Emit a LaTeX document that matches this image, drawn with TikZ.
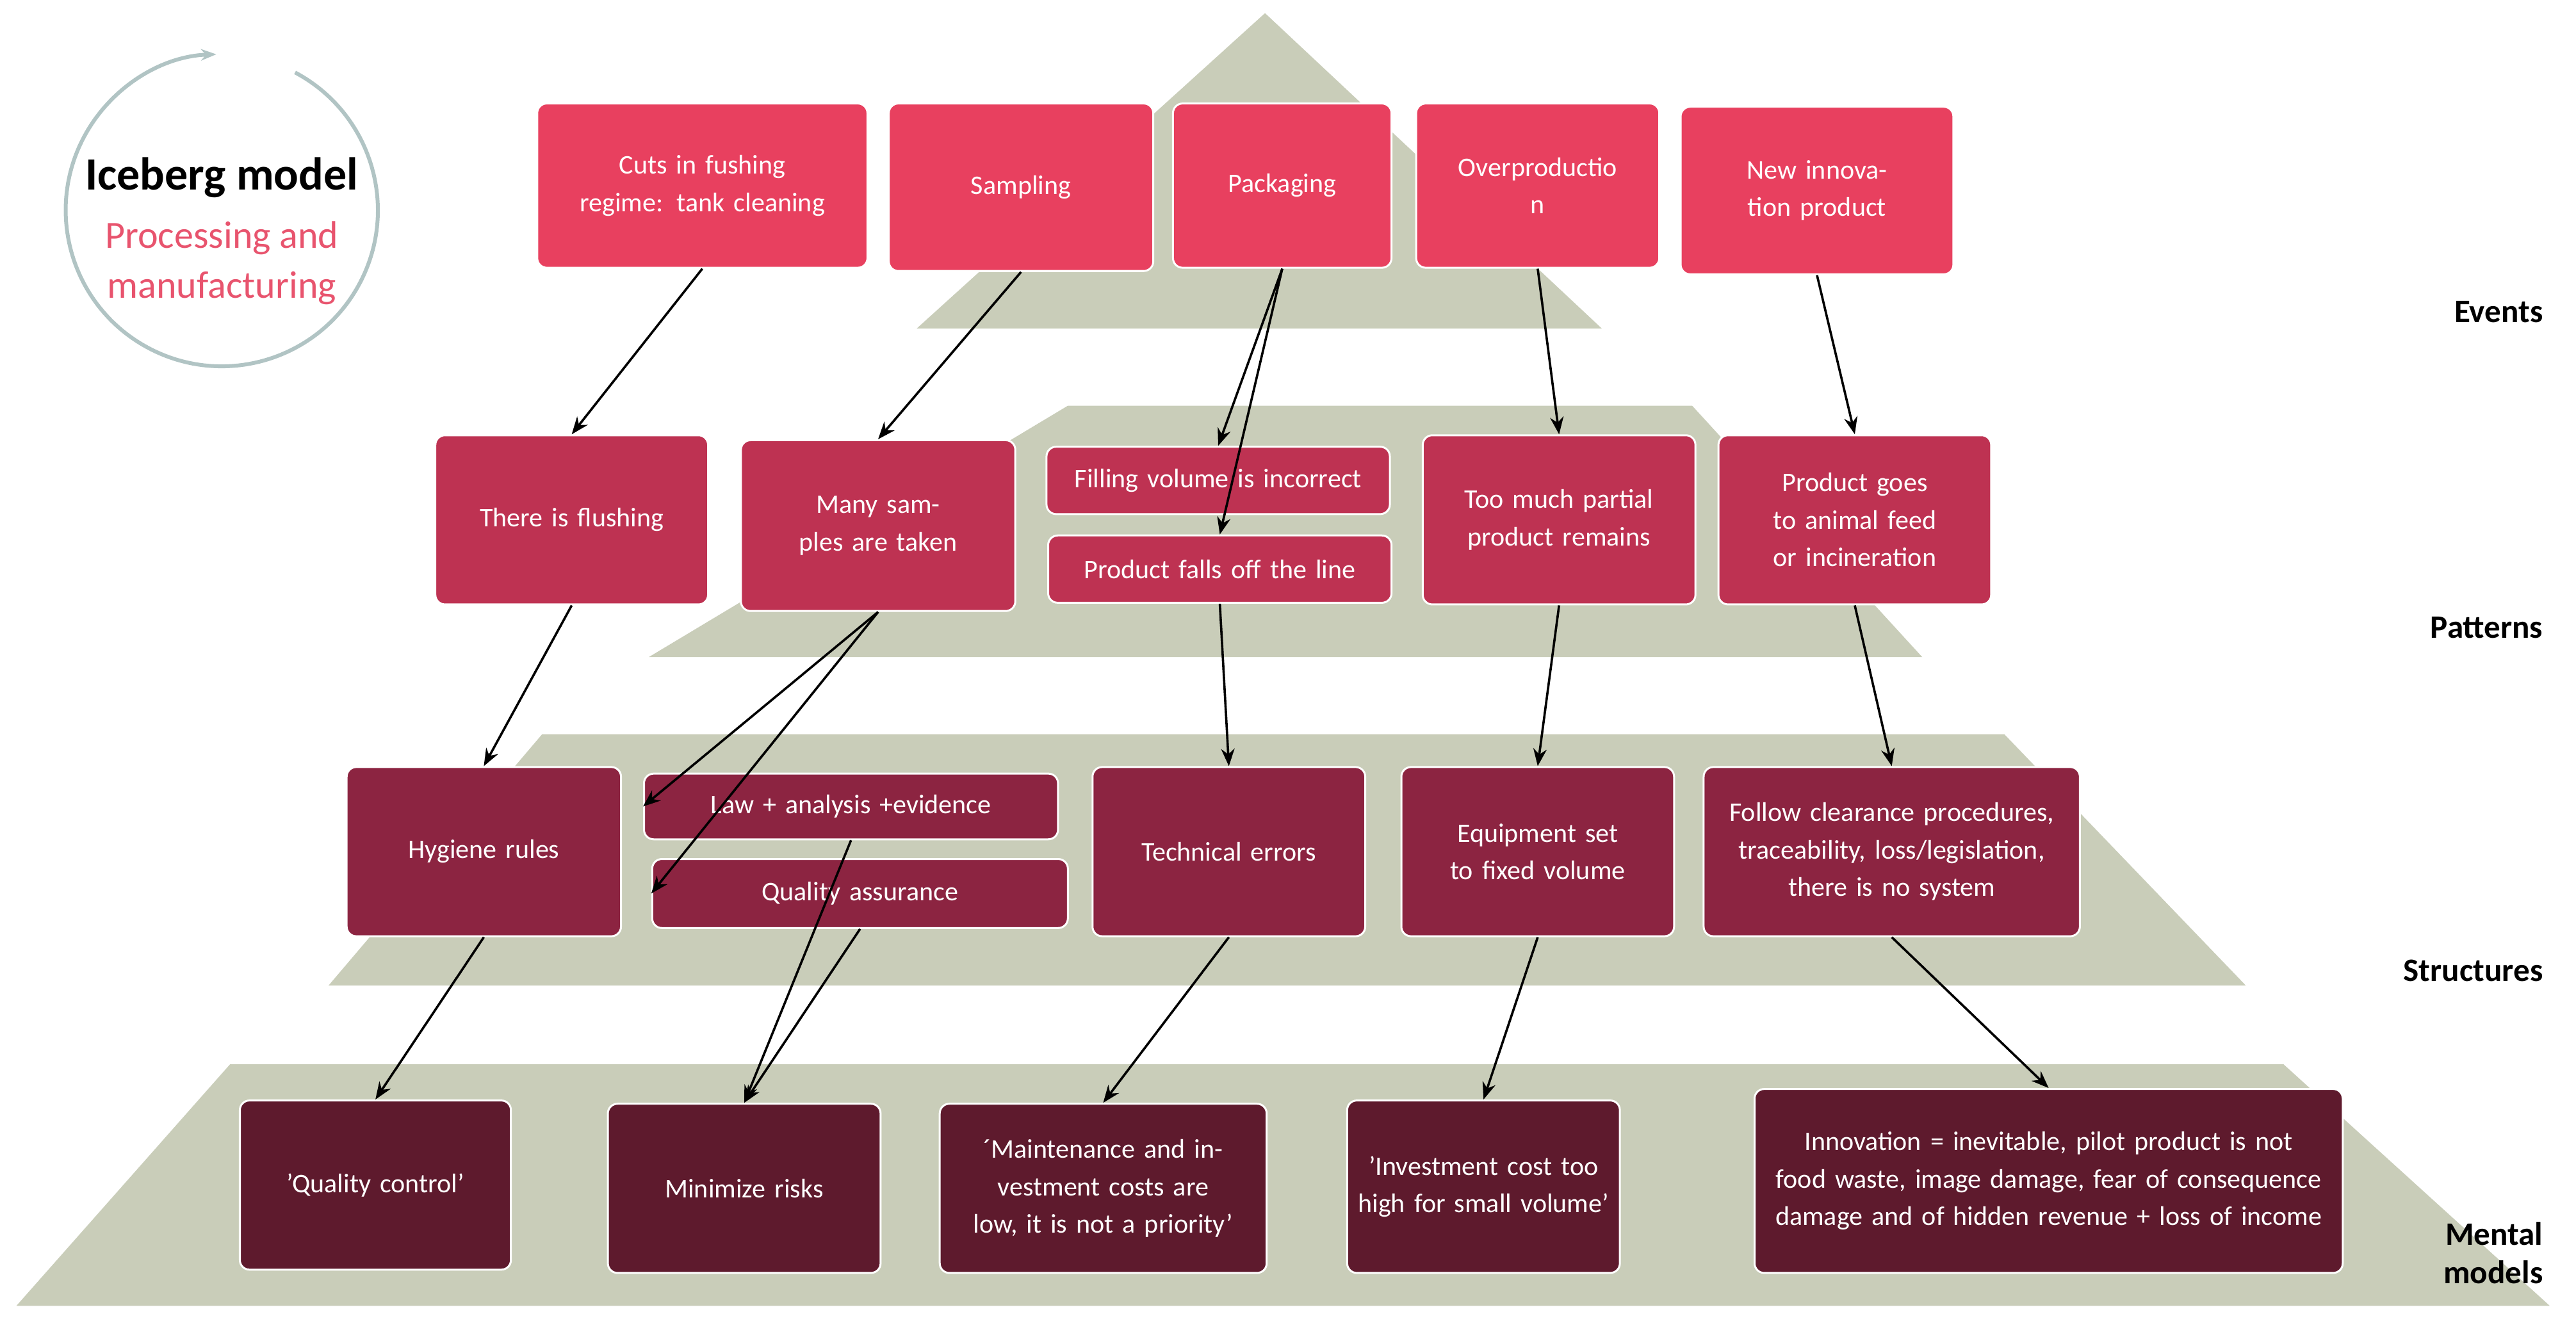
\documentclass[tikz,border=0pt]{standalone}
\usepackage{fontspec}
\setmainfont{Carlito}
\usetikzlibrary{arrows.meta}
\definecolor{ev}{HTML}{E8405F}
\definecolor{pa}{HTML}{BE3252}
\definecolor{st}{HTML}{8C2441}
\definecolor{mm}{HTML}{5E1A2D}
\definecolor{pyr}{HTML}{C9CDB9}
\definecolor{lpink}{HTML}{E8546E}
\definecolor{ring}{HTML}{7E9C9C}
\tikzset{
 box/.style={rounded corners=5pt,draw=white,line width=1pt,text=white,align=center,inner sep=2pt,font=\fontsize{14}{19.5}\selectfont},
 ev/.style={box,fill=ev},pa/.style={box,fill=pa},st/.style={box,fill=st},mm/.style={box,fill=mm},
 arr/.style={-{Stealth[length=9pt,width=7pt]},line width=1.2pt,black},
 lab/.style={font=\fontsize{17}{20}\selectfont\bfseries,align=right}
}
\newcommand\bx[7]{%
 \pgfmathsetmacro\tw{(#5-#3)*0.03-0.3}%
 \node[#2,minimum width={(#5-#3)*0.03cm},minimum height={(#6-#4)*0.03cm},text width=\tw cm] (#1) at ({(#3+#5)/2},{(#4+#6)/2}) {#7};}
\begin{document}
\begin{tikzpicture}[x=0.03cm,y=-0.03cm]
\useasboundingbox (0,0) rectangle (1568,804);
% pyramid
\fill[pyr] (770,8) -- (975,200) -- (558,200) -- cycle;
\fill[pyr] (650,247) -- (1030,247) -- (1170,400) -- (395,400) -- cycle;
\fill[pyr] (330,447) -- (1220,447) -- (1367,600) -- (200,600) -- cycle;
\fill[pyr] (140,648) -- (1390,648) -- (1552,795) -- (10,795) -- cycle;
% logo
\draw[ring!60,line width=2pt,-{Stealth[length=8pt]}] (135,128) ++(62:2.85cm) arc[start angle=62,end angle=-268,radius=2.85cm];
\node[font=\fontsize{24}{28}\selectfont\bfseries] (t1) at (135,108) {Iceberg model};
\node[font=\fontsize{20}{26}\selectfont,text=lpink,align=center] (t2) at (135,160) {Processing and\\manufacturing};
% events
\bx{cuts}{ev}{327}{63}{528}{163}{Cuts in fushing regime: tank cleaning}
\bx{samp}{ev}{541}{63}{702}{165}{Sampling}
\bx{pack}{ev}{714}{63}{847}{163}{Packaging}
\bx{over}{ev}{862}{63}{1010}{163}{Overproductio\\n}
\bx{new}{ev}{1023}{65}{1189}{167}{New innovation product}
% patterns
\bx{flush}{pa}{265}{265}{431}{368}{There is flushing}
\bx{many}{pa}{451}{268}{618}{372}{Many samples are taken}
\bx{fill}{pa}{637}{272}{846}{313}{Filling volume is incorrect}
\bx{falls}{pa}{638}{326}{847}{367}{Product falls off the line}
\bx{too}{pa}{866}{265}{1032}{368}{Too much partial product remains}
\bx{feed}{pa}{1046}{265}{1212}{368}{Product goes to animal feed or incineration}
% structures
\bx{hyg}{st}{211}{467}{378}{570}{Hygiene rules}
\bx{law}{st}{392}{471}{644}{511}{Law + analysis +evidence}
\bx{qa}{st}{397}{523}{650}{565}{Quality assurance}
\bx{tech}{st}{665}{467}{831}{570}{Technical errors}
\bx{equip}{st}{853}{467}{1019}{570}{Equipment set to fixed volume}
\bx{follow}{st}{1037}{467}{1266}{570}{Follow clearance procedures, traceability, loss/legislation, there is no system}
% mental models
\bx{qc}{mm}{146}{670}{311}{773}{'Quality control'}
\bx{minr}{mm}{370}{672}{536}{775}{Minimize risks}
\bx{maint}{mm}{572}{672}{771}{775}{´Maintenance and investment costs are low, it is not a priority'}
\bx{inv}{mm}{820}{670}{986}{775}{'Investment cost too high for small volume'}
\bx{innov}{mm}{1068}{663}{1426}{775}{Innovation = inevitable, pilot product is not food waste, image damage, fear of consequence damage and of hidden revenue + loss of income}
% labels
\node[lab,anchor=east] (lev) at (1552,190) {Events};
\node[lab,anchor=east] (lpa) at (1552,382) {Patterns};
\node[lab,anchor=east] (lst) at (1552,591) {Structures};
\node[lab,anchor=east] (lmm) at (1552,763) {Mental\\models};
% arrows
\draw[arr] (cuts.south) -- (flush.north);
\draw[arr] (samp.south) -- (many.north);
\draw[arr] (pack.south) -- (fill.north);
\draw[arr] (pack.south) -- (falls.north);
\draw[arr] (falls.south) -- (tech.north);
\draw[arr] (over.south) -- (too.north);
\draw[arr] (new.south) -- (feed.north);
\draw[arr] (flush.south) -- (hyg.north);
\draw[arr] (many.south) -- (law.west);
\draw[arr] (many.south) -- (qa.west);
\draw[arr] (too.south) -- (equip.north);
\draw[arr] (feed.south) -- (follow.north);
\draw[arr] (hyg.south) -- (qc.north);
\draw[arr] (law.south) -- (minr.north);
\draw[arr] (qa.south) -- (minr.north);
\draw[arr] (tech.south) -- (maint.north);
\draw[arr] (equip.south) -- (inv.north);
\draw[arr] (follow.south) -- (innov.north);
\end{tikzpicture}
\end{document}
